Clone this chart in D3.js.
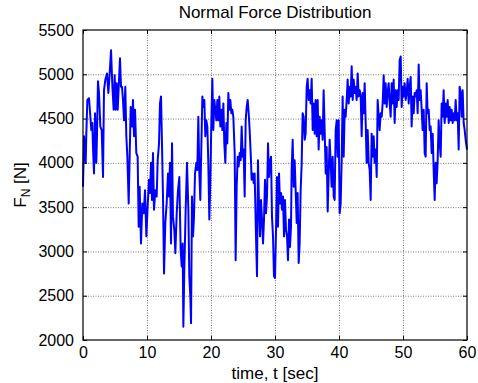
<!DOCTYPE html>
<html>
<head>
<meta charset="utf-8">
<script src="https://cdn.jsdelivr.net/npm/d3@7/dist/d3.min.js"></script>
<style>
  html, body { margin: 0; padding: 0; background: #fff; }
  svg { display: block; font-family: "Liberation Sans", Arial, sans-serif; }
</style>
</head>
<body>
<svg id="chart" width="478" height="383"></svg>
<script>
// ---- data ----
const title = "Normal Force Distribution";
const xLabel = "time, t [sec]";
const xTicks = [0, 10, 20, 30, 40, 50, 60];
const yTicks = [2000, 2500, 3000, 3500, 4000, 4500, 5000, 5500];

const time = [
  0.00,0.16,0.42,0.52,0.68,0.94,1.15,1.30,1.46,1.56,1.72,1.88,2.08,2.19,2.34,2.50,2.71,2.92,3.13,3.28,
  3.49,3.75,3.96,4.17,4.38,4.58,4.79,4.95,5.10,5.26,5.42,5.63,5.78,5.94,6.09,6.25,6.41,6.61,6.77,6.93,
  7.14,7.29,7.45,7.66,7.81,7.97,8.13,8.33,8.54,8.70,8.85,9.06,9.27,9.48,9.69,9.90,10.10,10.31,10.47,10.63,
  10.78,10.94,11.09,11.30,11.51,11.67,11.88,12.03,12.19,12.34,12.50,12.66,12.86,13.07,13.28,13.44,13.59,13.75,13.91,14.06,
  14.27,14.43,14.64,14.84,15.05,15.26,15.42,15.57,15.68,15.83,16.04,16.25,16.46,16.61,16.77,16.88,17.03,17.19,17.34,17.50,
  17.71,17.86,18.02,18.18,18.33,18.49,18.65,18.80,18.96,19.11,19.27,19.43,19.58,19.74,19.90,20.05,20.21,20.36,20.52,20.68,
  20.83,20.99,21.15,21.30,21.46,21.61,21.77,21.93,22.08,22.24,22.40,22.55,22.71,22.86,23.02,23.18,23.33,23.49,23.70,23.85,
  24.01,24.17,24.32,24.48,24.64,24.79,24.95,25.10,25.26,25.42,25.57,25.73,25.89,26.04,26.20,26.35,26.51,26.67,26.82,27.03,
  27.19,27.34,27.50,27.66,27.81,27.97,28.13,28.28,28.44,28.59,28.75,28.91,29.06,29.22,29.38,29.53,29.69,29.84,
  30.00,30.16,30.31,30.47,30.63,30.78,30.94,31.09,31.25,31.41,31.56,31.72,31.88,32.03,32.19,32.34,32.50,32.60,32.76,32.92,
  33.07,33.23,33.39,33.54,33.70,33.85,34.01,34.17,34.32,34.48,34.64,34.79,34.95,35.10,35.26,35.42,35.57,35.73,35.89,36.04,
  36.20,36.35,36.51,36.67,36.82,36.98,37.14,37.29,37.45,37.60,37.76,37.92,38.07,38.23,38.39,38.54,38.70,38.85,39.01,39.17,
  39.32,39.48,39.64,39.79,39.95,40.10,40.26,40.42,40.57,40.73,40.89,41.04,41.20,41.35,41.51,41.67,41.82,41.98,42.14,42.29,
  42.45,42.60,42.76,42.92,43.07,43.23,43.39,43.54,43.70,43.85,44.01,44.17,44.32,44.48,44.64,44.79,44.95,45.10,45.26,45.42,
  45.57,45.73,45.89,46.04,46.20,46.35,46.51,46.67,46.82,46.98,47.14,47.29,47.45,47.60,47.76,47.92,48.07,48.23,48.39,48.54,
  48.70,48.85,49.01,49.17,49.32,49.48,49.64,49.79,49.95,50.10,50.26,50.42,50.57,50.73,50.89,51.04,51.20,51.35,51.51,51.67,
  51.82,51.98,52.14,52.29,52.45,52.60,52.76,52.92,53.07,53.23,53.39,53.54,53.70,53.85,54.01,54.17,54.32,54.48,54.64,54.79,
  54.95,55.10,55.26,55.42,55.57,55.73,55.89,56.04,56.20,56.35,56.51,56.67,56.82,56.98,57.14,57.29,57.45,57.60,57.76,57.92,
  58.07,58.23,58.39,58.54,58.70,58.85,59.01,59.17,59.32,59.48,59.64,59.79,60.00
];

const force = [
  3730,4300,4000,4330,4710,4730,4520,4370,4450,4180,3880,4560,4000,4330,4920,4790,4410,4370,3840,4820,
  4940,5010,4790,5010,5270,4880,4600,4990,4600,4900,4600,4940,5180,4860,4860,4710,4480,4860,4300,4070,
  3540,4070,4630,4410,4710,4300,4600,4110,4070,3280,3730,3090,3540,3430,3690,3170,3510,3810,3660,4000,
  3580,4110,3470,3690,3620,4030,4220,4670,4750,4220,3620,2750,3320,3540,3880,3620,4000,3090,4220,3390,
  3240,2980,3430,3690,3840,3020,2830,3090,2150,2790,3470,4000,3470,2720,2490,2190,3620,3170,3390,3880,
  4000,3920,4520,3880,3580,4180,4750,4630,4710,4300,4480,4410,4000,3360,3810,4450,4950,4370,4710,4600,
  4480,4710,4480,4750,4410,4600,4370,4670,4220,4000,4450,4220,4790,4600,4710,4560,4600,4520,4110,2900,
  3730,4070,3960,4110,4030,4410,4070,4150,3620,4480,4630,4710,4560,4370,4110,3810,3880,3770,3880,3170,
  2720,4030,3540,3170,3580,3360,3090,3360,3810,3430,3620,4220,3840,4000,4070,3390,3170,2720,
  2700,3240,3840,3280,3880,3540,3660,3470,3620,3170,3580,3240,3170,2900,3360,3050,3280,3920,4260,3730,
  4030,3690,3320,3660,2870,3090,3690,4000,4560,4520,4260,4330,4860,4950,4710,4820,4670,4950,4370,4670,
  4330,4710,4300,4710,4150,4520,4330,4480,4260,4820,4370,3880,4180,3450,3880,4260,4000,3730,4070,3620,
  3580,4370,4480,4070,4480,3430,3540,4030,4750,4070,4600,4520,4710,4940,4670,4860,4750,5090,4710,4940,
  4790,4860,4710,5010,4750,4820,4750,4300,4790,4560,4900,4450,4000,4370,4000,3920,3580,4330,4070,4300,
  4000,4150,3840,4710,4520,4370,4560,4520,4670,4990,4670,4900,4630,4790,4900,4670,4520,4900,4670,4940,
  4450,4820,4630,4820,4710,5160,5200,4630,4860,4750,4900,4710,4790,4950,4670,4860,4970,4410,4750,4560,
  4790,4750,4820,4560,5110,4710,4820,4600,4370,4600,4110,4070,4900,4560,4600,4370,4410,4110,4330,3920,
  3580,4000,3770,4030,4480,4220,4070,4670,4520,4820,4450,4670,4520,4710,4450,4630,4480,4600,4450,4560,
  4480,4710,4480,4560,4150,4860,4790,4520,4820,4450,4370,4260,4150
];

// ---- layout ----
const svg = d3.select("#chart");
const W = 478, H = 383;
const m = { left: 83, top: 30, right: 11, bottom: 43 };
const x0 = m.left, x1 = W - m.right, y0 = m.top, y1 = H - m.bottom;

const x = d3.scaleLinear().domain([0, 60]).range([x0, x1]);
const y = d3.scaleLinear().domain([2000, 5500]).range([y1, y0]);

svg.append("rect").attr("x", 0).attr("y", 0).attr("width", W).attr("height", H).attr("fill", "#fff");

// grid
const grid = svg.append("g").attr("stroke", "#555").attr("stroke-width", 0.8).attr("stroke-dasharray", "1,1.5");
grid.selectAll(".gx").data(xTicks.slice(1, -1)).join("line")
  .attr("x1", d => x(d) + 0.5).attr("x2", d => x(d) + 0.5).attr("y1", y0).attr("y2", y1);
grid.selectAll(".gy").data(yTicks.slice(1, -1)).join("line")
  .attr("y1", d => y(d) + 0.5).attr("y2", d => y(d) + 0.5).attr("x1", x0).attr("x2", x1);

// data line
const line = d3.line().x((d, i) => x(time[i])).y(d => y(d));
svg.append("path").datum(force)
  .attr("d", line)
  .attr("fill", "none")
  .attr("stroke", "#0000ff")
  .attr("stroke-width", 2)
  .attr("stroke-linejoin", "round");

// axes with inward ticks
const fs = 16;
const axB = d3.axisBottom(x).tickValues(xTicks).tickSize(-4).tickPadding(7).tickFormat(d3.format("d"));
const axT = d3.axisTop(x).tickValues(xTicks).tickSize(-4).tickFormat("");
const axL = d3.axisLeft(y).tickValues(yTicks).tickSize(-4).tickPadding(9).tickFormat(d3.format("d"));
const axR = d3.axisRight(y).tickValues(yTicks).tickSize(-4).tickFormat("");

function style(g) {
  g.select(".domain").remove();
  g.selectAll(".tick line").attr("stroke", "#000");
  g.selectAll(".tick text").attr("fill", "#000").style("font-size", fs + "px")
    .style("font-family", "'Liberation Sans', Arial, sans-serif");
}
svg.append("g").attr("transform", `translate(0,${y1})`).call(axB).call(style);
svg.append("g").attr("transform", `translate(0,${y0})`).call(axT).call(style);
svg.append("g").attr("transform", `translate(${x0},0)`).call(axL).call(style);
svg.append("g").attr("transform", `translate(${x1},0)`).call(axR).call(style);

// box
svg.append("rect").attr("x", x0).attr("y", y0).attr("width", x1 - x0).attr("height", y1 - y0)
  .attr("fill", "none").attr("stroke", "#000").attr("stroke-width", 1.2);

// title and labels
const lfs = 17;
svg.append("text").attr("x", (x0 + x1) / 2).attr("y", 18).attr("text-anchor", "middle")
  .style("font-size", lfs + "px").text(title);
svg.append("text").attr("x", (x0 + x1) / 2).attr("y", 379).attr("text-anchor", "middle")
  .style("font-size", lfs + "px").text(xLabel);
const yl = svg.append("text").attr("transform", `translate(26,${(y0 + y1) / 2}) rotate(-90)`)
  .attr("text-anchor", "middle").style("font-size", lfs + "px");
yl.append("tspan").text("F");
yl.append("tspan").attr("dy", 4).style("font-size", "12px").text("N");
yl.append("tspan").attr("dy", -4).text(" [N]");
</script>
</body>
</html>
